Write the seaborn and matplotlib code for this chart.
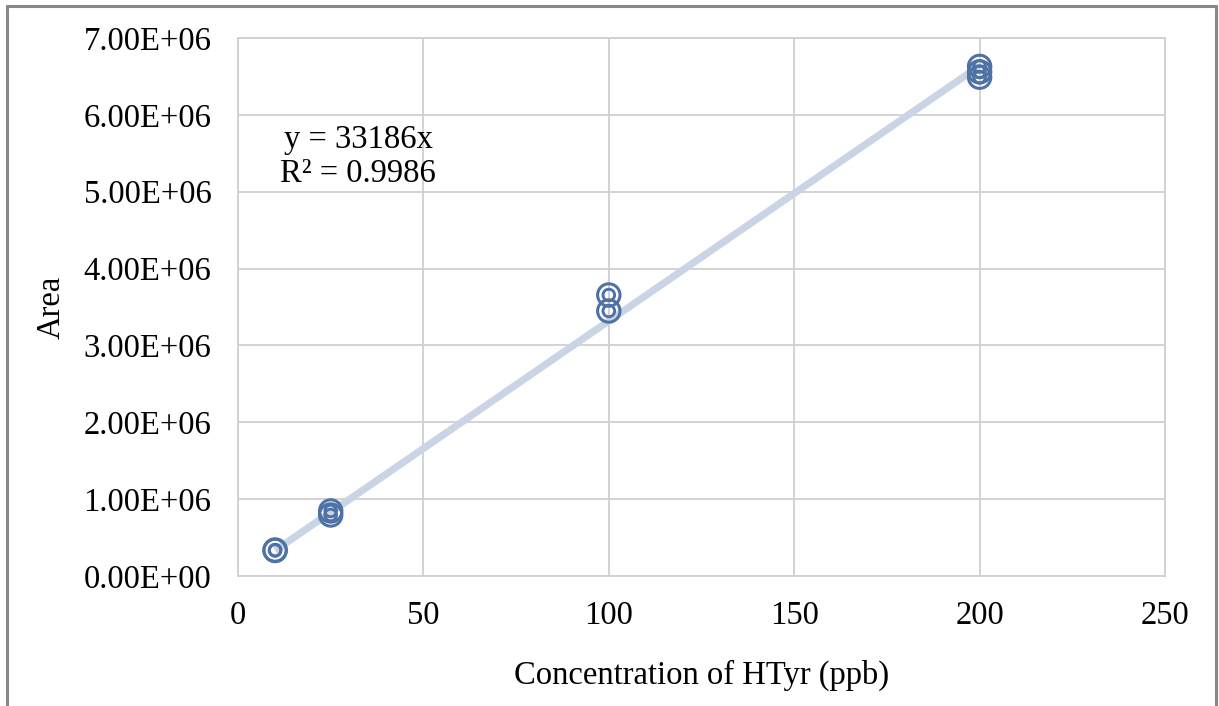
import matplotlib
matplotlib.use("Agg")
import matplotlib.pyplot as plt
import seaborn as sns
import pandas as pd
import numpy as np
from matplotlib.lines import Line2D
from matplotlib.ticker import FuncFormatter

# Calibration data: HTyr standards
concentration = [10, 10, 25, 25, 100, 100, 200, 200, 200]
area = [3.38e5, 3.32e5, 8.46e5, 7.94e5, 3.656e6, 3.448e6, 6.63e6, 6.56e6, 6.49e6]
slope = 33186
r_squared = 0.9986

x_ticks = [0, 50, 100, 150, 200, 250]
y_ticks = [0, 1e6, 2e6, 3e6, 4e6, 5e6, 6e6, 7e6]

df = pd.DataFrame({"conc": concentration, "area": area})

sns.set_theme(style="whitegrid")
plt.rcParams["font.family"] = ["Liberation Serif", "DejaVu Serif"]
plt.rcParams["text.color"] = "black"
plt.rcParams["axes.labelcolor"] = "black"

fig = plt.figure(figsize=(12.19, 7.06), dpi=100)
ax = fig.add_axes([238 / 1219, 1 - 576 / 706, (1165 - 238) / 1219, (576 - 38) / 706])

marker_color = "#4e71a6"
line_color = "#c9d5e4"
fs = 23.5

# Linear trendline through the origin over the data range
fit_x = np.array([min(concentration), max(concentration)])
fit_df = pd.DataFrame({"conc": fit_x, "area": slope * fit_x})
sns.lineplot(data=fit_df, x="conc", y="area", ax=ax, color=line_color,
             linewidth=5.2, zorder=2, solid_capstyle="butt")

# Double-ring markers
sns.scatterplot(data=df, x="conc", y="area", ax=ax, s=260, marker="o",
                facecolor="none", edgecolor=marker_color, linewidth=2.2, zorder=3)
sns.scatterplot(data=df, x="conc", y="area", ax=ax, s=70, marker="o",
                facecolor="none", edgecolor=marker_color, linewidth=2.1, zorder=4)

ax.set_xlim(0, 250)
ax.set_ylim(0, 7e6)
ax.set_xticks(x_ticks)
ax.set_yticks(y_ticks)
ax.yaxis.set_major_formatter(FuncFormatter(lambda v, p: f"{v:.2E}"))

ax.grid(True, color="#d0d0d0", linewidth=1.3)
ax.set_facecolor("white")
for side in ["top", "right", "bottom", "left"]:
    ax.spines[side].set_visible(True)
    ax.spines[side].set_color("#d0d0d0")
    ax.spines[side].set_linewidth(1.3)

ax.tick_params(axis="both", labelsize=fs, colors="black", length=0)
ax.tick_params(axis="x", pad=18)
ax.tick_params(axis="y", pad=19)

ax.set_xlabel("Concentration of HTyr (ppb)", fontsize=fs, labelpad=20)
ax.set_ylabel("Area", fontsize=fs, labelpad=12)

ax.text(32.4, 5.45e6, f"y = {slope}x\nR² = {r_squared}", fontsize=fs,
        ha="center", va="center", linespacing=1.15, color="black")

# Chart area border
border_kw = dict(color="#888888", linewidth=2.2, transform=fig.transFigure)
fig.add_artist(Line2D([7 / 1219, 7 / 1219], [0, 1 - 6 / 706], **border_kw))
fig.add_artist(Line2D([7 / 1219, 1216 / 1219], [1 - 6 / 706, 1 - 6 / 706], **border_kw))
fig.add_artist(Line2D([1216 / 1219, 1216 / 1219], [0, 1 - 6 / 706], **border_kw))

fig.savefig("out.png", dpi=100, facecolor="white")
